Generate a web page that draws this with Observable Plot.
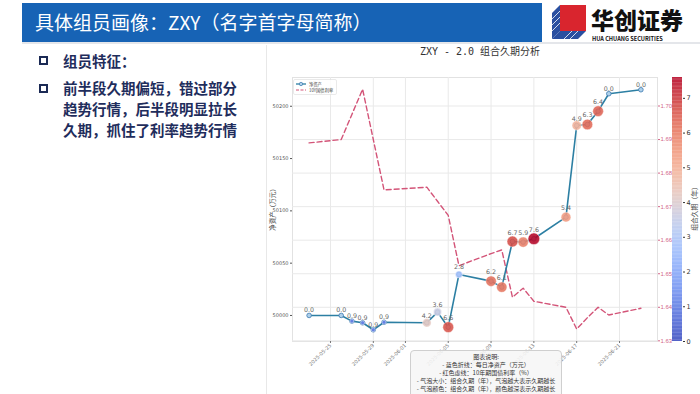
<!DOCTYPE html>
<html><head><meta charset="utf-8">
<script src="https://cdn.jsdelivr.net/npm/d3@7"></script>
<script src="https://cdn.jsdelivr.net/npm/@observablehq/plot@0.6"></script>
<style>
body{margin:0;width:700px;height:394px;overflow:hidden;background:#fff;position:relative;font-family:"Noto Sans CJK SC","Noto Sans",sans-serif}
.abs{position:absolute}
.bul{position:absolute;left:39px;width:5px;height:5px;border:2px solid #1b2a55}
.txt{position:absolute;left:63px;font-size:14.5px;font-weight:700;color:#1f2d5c;line-height:21px;white-space:nowrap}
svg{overflow:visible}
</style></head><body>
<!-- header -->
<div class="abs" style="left:22px;top:3px;width:520px;height:39px;background:#1763b5"></div>
<div class="abs" style="left:22px;top:42px;width:678px;height:2px;background:#e4e6ea"></div>
<div class="abs" style="left:35px;top:8px;font-size:19px;color:#fff;white-space:nowrap;line-height:28px">具体组员画像：ZXY（名字首字母简称）</div>
<svg class="abs" style="left:552px;top:5px" width="36" height="34" viewBox="0 0 36 34">
  <polygon points="8,0 34,0 34,26 8,26" fill="#d9252e"/>
  <polygon points="0,8 8,0 8,26 0,34" fill="#2a4fa0"/>
  <polygon points="0,34 8,26 34,26 26,34" fill="#2a4fa0"/>
  <g stroke="#fff" stroke-width="0.8">
    <line x1="0" y1="14" x2="8" y2="6"/><line x1="0" y1="20" x2="8" y2="12"/><line x1="0" y1="26" x2="8" y2="18"/>
    <line x1="12" y1="34" x2="20" y2="26"/><line x1="18" y1="34" x2="26" y2="26"/>
  </g>
</svg>
<div class="abs" style="left:591px;top:2px;font-size:23px;font-weight:900;color:#111;white-space:nowrap;line-height:34px;height:34px">华创证券</div>
<div class="abs" style="left:592px;top:36px;font-size:5.6px;font-weight:700;color:#111;white-space:nowrap;line-height:6px">HUA CHUANG SECURITIES</div>

<!-- left text -->
<div class="bul" style="top:56px"></div>
<div class="txt" style="top:50px">组员特征：</div>
<div class="bul" style="top:84px"></div>
<div class="txt" style="top:77px">前半段久期偏短，错过部分<br>趋势行情，后半段明显拉长<br>久期，抓住了利率趋势行情</div>

<!-- chart area -->
<div class="abs" style="left:266px;top:45px;width:1px;height:349px;background:#e8e8e8"></div>
<div class="abs" style="left:380px;top:45px;width:200px;text-align:center;font-size:10px;color:#333;white-space:nowrap;font-family:'DejaVu Sans Mono','Noto Sans CJK SC',monospace;line-height:14px">ZXY - 2.0 组合久期分析</div>
<div id="back" class="abs" style="left:265px;top:45px"></div>
<div id="main" class="abs" style="left:265px;top:45px"></div>
<div id="cbar" class="abs" style="left:660px;top:45px"></div>
<div class="abs" style="left:244px;top:204px;width:56px;text-align:center;transform:rotate(-90deg);font-size:6.5px;color:#444;white-space:nowrap;line-height:8px">净资产（万元）</div>
<div class="abs" style="left:665px;top:203px;width:58px;text-align:center;transform:rotate(-90deg);font-size:6.8px;color:#444;white-space:nowrap;line-height:8px">组合久期（年）</div>

<!-- in-chart legend -->
<svg class="abs" style="left:293px;top:79px" width="44" height="16">
  <rect x="0.5" y="0.5" width="43" height="15" rx="1.5" fill="#fff" fill-opacity="0.85" stroke="#dcdcdc" stroke-width="0.6"/>
  <line x1="3" y1="5" x2="13" y2="5" stroke="#2c7fa3" stroke-width="1.3"/>
  <circle cx="8" cy="5" r="1.7" fill="#aed0ea" stroke="#3a78b0" stroke-width="0.7"/>
  <line x1="3" y1="11" x2="13" y2="11" stroke="#d35478" stroke-width="1.1" stroke-dasharray="3,1.5"/>
  <text x="16" y="6.6" font-size="4.3" fill="#444">净资产</text>
  <text x="16" y="12.6" font-size="4.3" fill="#444">10Y国债利率</text>
</svg>

<!-- annotation box -->
<div class="abs" style="left:410px;top:350px;width:150px;height:50px;border:0.8px solid #cfcfcf;border-radius:4px;background:rgba(246,246,246,0.88);text-align:center;font-size:6px;line-height:8px;color:#333;white-space:nowrap;padding-top:2px">
图表说明:<br>- 蓝色折线：每日净资产（万元）<br>- 红色虚线：10年期国债利率（%）<br>- 气泡大小：组合久期（年），气泡越大表示久期越长<br>- 气泡颜色：组合久期（年），颜色越深表示久期越长
</div>

<script>
// ---- data ----
const dates = ["2025-05-23","2025-05-26","2025-05-27","2025-05-28","2025-05-29","2025-05-30",
  "2025-06-03","2025-06-04","2025-06-05","2025-06-06","2025-06-09","2025-06-10","2025-06-11",
  "2025-06-12","2025-06-13","2025-06-16","2025-06-17","2025-06-18","2025-06-19","2025-06-20","2025-06-23"];
const netAssets = [50000.0,50000.0,49994.6,49993.0,49986.3,49993.5,49993.0,50003.2,49988.8,50039.2,
  50032.8,50027.1,50070.7,50070.1,50073.3,50094.0,50181.6,50182.6,50195.3,50212.0,50215.8];
const durations = [0.0,0.0,0.9,0.9,0.9,0.9,4.2,3.6,6.6,2.8,6.2,6.1,6.7,5.9,7.6,5.4,4.9,6.3,6.4,0.0,0.0];
const rates = [1.689,1.690,1.6975,1.705,1.690,1.675,1.6758,1.6716,1.6674,1.6524,1.656,1.6571,1.6430,
  1.6457,1.6418,1.6400,1.6335,1.6369,1.6400,1.6377,1.6397];
const xTicks = ["2025-05-25","2025-05-29","2025-06-01","2025-06-05","2025-06-09","2025-06-13","2025-06-17","2025-06-21"];
const assetTicks = [50000,50050,50100,50150,50200];
const rateTicks = [1.63,1.64,1.65,1.66,1.67,1.68,1.69,1.70];
const durTicks = [0,1,2,3,4,5,6,7];
const coolwarm = ["#3b4cc0","#6282ea","#8db0fe","#b8d0f9","#f2cbb7","#f49a7b","#de604d","#b40426"];

const data = dates.map((d,i)=>({date:new Date(d+"T00:00:00Z"), v:netAssets[i], dur:durations[i], rate:rates[i]}));
const tickDates = xTicks.map(d=>new Date(d+"T00:00:00Z"));
const day = 864e5;
const xDomain = [new Date(+data[0].date - 1.55*day), new Date(+data[data.length-1].date + 1.55*day)];
const W=435,H=349,mt=32,mb=53,ml=27,mr=43;
const colorOpt = {type:"linear", domain:[0,7.6], interpolate:d3.interpolateRgbBasis(coolwarm)};

// back layer: grid + rate line + right axis
document.getElementById("back").append(Plot.plot({
  width:W,height:H,marginTop:mt,marginBottom:mb,marginLeft:ml,marginRight:mr,
  style:{background:"transparent",fontFamily:"DejaVu Sans"},
  x:{type:"utc",domain:xDomain,axis:null},
  y:{domain:[1.6298,1.7085],axis:null},
  marks:[
    Plot.frame({stroke:"#e2e2e2"}),
    Plot.gridX(tickDates,{stroke:"#e9e9e9",strokeOpacity:1}),
    Plot.gridY(rateTicks,{stroke:"#e9e9e9",strokeOpacity:1}),
    Plot.line(data,{x:"date",y:"rate",stroke:"#d35478",strokeWidth:1.4,strokeDasharray:"5,3"}),
    Plot.axisY(rateTicks,{anchor:"right",tickFormat:d=>d.toFixed(2),fontSize:6,fontFamily:"Liberation Sans",tickSize:2,tickPadding:1,color:"#d3678a",label:null})
  ]
}));

// main layer
const lab = (f,dy)=>Plot.text(data.filter(f),{x:"date",y:"v",text:d=>d.dur.toFixed(1),dy,fontSize:6.3,fill:"#666",fontFamily:"DejaVu Sans"});
document.getElementById("main").append(Plot.plot({
  width:W,height:H,marginTop:mt,marginBottom:mb,marginLeft:ml,marginRight:mr,
  style:{background:"transparent",fontFamily:"DejaVu Sans"},
  x:{type:"utc",domain:xDomain},
  y:{domain:[49975.1,50227.5]},
  r:{type:"sqrt",domain:[0,7.6],range:[0,5.8]},
  color:colorOpt,
  marks:[
    Plot.axisX(tickDates,{tickFormat:d3.utcFormat("%Y-%m-%d"),tickRotate:-45,fontSize:5,tickSize:2,tickPadding:1,color:"#777",label:null}),
    Plot.axisY(assetTicks,{anchor:"left",fontSize:5,tickSize:2,tickPadding:2,color:"#555",label:null,tickFormat:d=>String(d)}),
    Plot.line(data,{x:"date",y:"v",stroke:"#2c7fa3",strokeWidth:1.6}),
    Plot.dot(data,{x:"date",y:"v",r:2.3,fill:"#aed0ea",stroke:"#3a78b0",strokeWidth:0.8}),
    Plot.dot(data.filter(d=>d.dur>0),{x:"date",y:"v",r:"dur",fill:"dur",fillOpacity:0.88,stroke:"#fff",strokeWidth:0.4}),
    lab(d=>d.dur<1,-5),
    lab(d=>d.dur>=1&&d.dur<5,-7),
    lab(d=>d.dur>=5,-9)
  ]
}));

// colorbar
const cbSteps = d3.range(0,7.6,0.04);
document.getElementById("cbar").append(Plot.plot({
  width:40,height:H,marginTop:mt,marginBottom:mb,marginLeft:12,marginRight:18,
  style:{background:"transparent",fontFamily:"DejaVu Sans"},
  x:{domain:[0,1],axis:null},
  y:{domain:[0,7.6],axis:null},
  color:colorOpt,
  marks:[
    Plot.rect(cbSteps,{x1:0,x2:1,y1:d=>d,y2:d=>Math.min(d+0.045,7.6),fill:d=>d,fillOpacity:0.88}),
    Plot.axisY(durTicks,{anchor:"right",fontSize:6.5,tickSize:2,tickPadding:2,color:"#333",label:null})
  ]
}));
</script>
</body></html>
